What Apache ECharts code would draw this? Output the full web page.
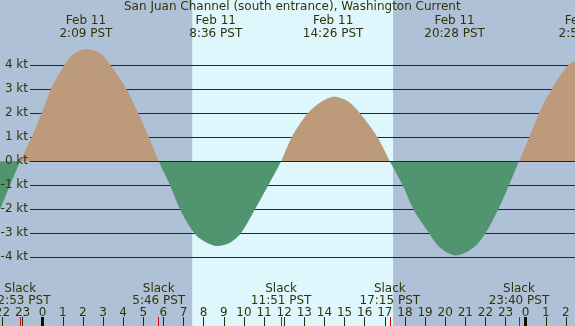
<!DOCTYPE html>
<html><head><meta charset="utf-8">
<script src="https://cdn.jsdelivr.net/npm/echarts@6/dist/echarts.min.js"></script>
<style>html,body{margin:0;padding:0;background:#afc1d6}#c{width:575px;height:326px}</style>
</head><body><div id="c"></div>
<script>
const TITLE = 'San Juan Channel (south entrance), Washington Current';
// hours relative to Feb 11 00:00 PST
const hourTicks = [-2,-1,0,1,2,3,4,5,6,7,8,9,10,11,12,13,14,15,16,17,18,19,20,21,22,23,24,25,26,27];
const flowHours = [-2.5,-2.12,-1.62,-1.117,-0.55,-0.05,0.40,1.07,1.52,2.18,2.85,3.38,4.17,4.75,5.28,5.767,6.33,6.82,7.53,8.06,8.69,9.31,9.85,10.55,11.21,11.85,12.37,13.17,13.86,14.49,15.19,15.77,16.64,17.25,17.89,18.42,19.2,19.74,20.54,21.4,22.0,22.64,23.17,23.667,24.18,24.66,25.29,26.12,26.95];
const flowKnots = [-2.7,-2.0,-1.0,0,1,2,3,4,4.47,4.68,4.5,4,3,2,1,0,-1,-2,-3,-3.35,-3.53,-3.39,-3,-2,-1,0,1,2,2.49,2.69,2.49,2,1,0,-1,-2,-3,-3.6,-3.92,-3.6,-3,-2,-1,0,1,2,3,4,4.4];
const slackHours = [-1.117, 5.767, 11.85, 17.25, 23.667];
const slackLabels = ['22:53 PST','5:46 PST','11:51 PST','17:15 PST','23:40 PST'];
const peakHours = [2.15, 8.6, 14.433, 20.467, 26.95];
const peakDates = ['Feb 11','Feb 11','Feb 11','Feb 11','Feb 12'];
const peakLabels = ['2:09 PST','8:36 PST','14:26 PST','20:28 PST','2:57 PST'];
const midnightHours = [0, 24];
const daylight = [[7.43, 17.41]];
const knotTicks = [-4,-3,-2,-1,0,1,2,3,4];

const X_MIN = -2.12, X_MAX = 28.439;
const Y_MIN = -6.8625, Y_MAX = 6.72;
const TXT = '#33330a', LINE = '#262a0c', FONT = 'DejaVu Sans';
const FLOOD = '#bd9b7a', EBB = '#509470', DAY = '#def7fd', NIGHT = '#afc1d6';

function nearest(arr, v){let b=0;for(let i=1;i<arr.length;i++){if(Math.abs(arr[i]-v)<Math.abs(arr[b]-v))b=i;}return b;}
const full = {left:0, right:-40, top:0, bottom:0, outerBoundsMode:'none', containLabel:false};
const hidden = {axisLine:{show:false, onZero:false},axisTick:{show:false},axisLabel:{show:false},splitLine:{show:false}};
const xBase = {type:'value', min:X_MIN, max:X_MAX, z:6};

const chart = echarts.init(document.getElementById('c'), null, {renderer:'canvas'});
chart.setOption({
  animation:false,
  backgroundColor: NIGHT,
  title:{text:TITLE, left:124, top:1, padding:0, textStyle:{fontFamily:FONT, fontSize:12, fontWeight:'normal', color:TXT}},
  grid:[
    Object.assign({}, full),
    Object.assign({}, full, {left:30, top:65.3, bottom:68.7}),
    Object.assign({}, full),
    Object.assign({}, full)
  ],
  xAxis:[
    Object.assign({}, xBase, hidden, {gridIndex:0, position:'bottom',
      axisTick:{show:true, inside:true, length:9, customValues:hourTicks, lineStyle:{color:LINE, width:1}},
      axisLabel:{show:true, inside:true, margin:7, customValues:hourTicks, fontFamily:FONT, fontSize:12, color:TXT,
        formatter:v=>String(((Math.round(v)%24)+24)%24)}}),
    Object.assign({}, xBase, hidden, {gridIndex:1, position:'bottom', z:6,
      axisLine:{show:true, onZero:true, lineStyle:{color:LINE, width:1}}}),
    Object.assign({}, xBase, hidden, {gridIndex:2, position:'top',
      axisTick:{show:false, customValues:peakHours},
      axisLabel:{show:true, inside:true, margin:14, customValues:peakHours, fontFamily:FONT, fontSize:12, color:TXT, lineHeight:13,
        formatter:v=>{const i=nearest(peakHours,v);return peakDates[i]+'\n'+peakLabels[i];}}}),
    Object.assign({}, xBase, hidden, {gridIndex:2, position:'bottom',
      axisTick:{show:true, inside:true, length:9, customValues:midnightHours, lineStyle:{color:'#111100', width:3}}}),
    Object.assign({}, xBase, hidden, {gridIndex:3, position:'bottom',
      axisTick:{show:true, inside:true, length:9, customValues:slackHours, lineStyle:{color:'#e00000', width:1}},
      axisLabel:{show:true, inside:true, margin:19, customValues:slackHours, fontFamily:FONT, fontSize:12, color:TXT, lineHeight:12,
        formatter:v=>'Slack\n'+slackLabels[nearest(slackHours,v)]}})
  ],
  yAxis:[
    Object.assign({type:'value', min:Y_MIN, max:Y_MAX, gridIndex:0}, hidden),
    Object.assign({type:'value', min:knotTicks[0], max:knotTicks[knotTicks.length-1], interval:1, gridIndex:1, position:'left', z:6}, hidden,
      {axisLabel:{show:true, margin:2, fontFamily:FONT, fontSize:12, color:TXT, formatter:v=>v+' kt'}}),
    Object.assign({type:'value', min:knotTicks[0], max:knotTicks[knotTicks.length-1], interval:1, gridIndex:1, position:'right', z:2}, hidden,
      {splitLine:{show:true, lineStyle:{color:LINE, width:1}}}),
    Object.assign({type:'value', min:Y_MIN, max:Y_MAX, gridIndex:2}, hidden),
    Object.assign({type:'value', min:Y_MIN, max:Y_MAX, gridIndex:3}, hidden)
  ],
  visualMap:{type:'piecewise', show:false, seriesIndex:0, dimension:1,
    pieces:[{gt:0, lte:100, color:FLOOD},{gt:-100, lte:0, color:EBB}], outOfRange:{color:EBB}},
  series:[{
    type:'line', xAxisIndex:0, yAxisIndex:0, z:3,
    data: flowHours.map((h,i)=>[h, flowKnots[i]]),
    smooth:0.3, showSymbol:false, symbol:'none', silent:true,
    lineStyle:{width:0},
    areaStyle:{opacity:1},
    markArea:{silent:true, z:1, itemStyle:{color:DAY}, data: daylight.map(d=>[{xAxis:d[0]},{xAxis:d[1]}])}
  }]
});
</script></body></html>
